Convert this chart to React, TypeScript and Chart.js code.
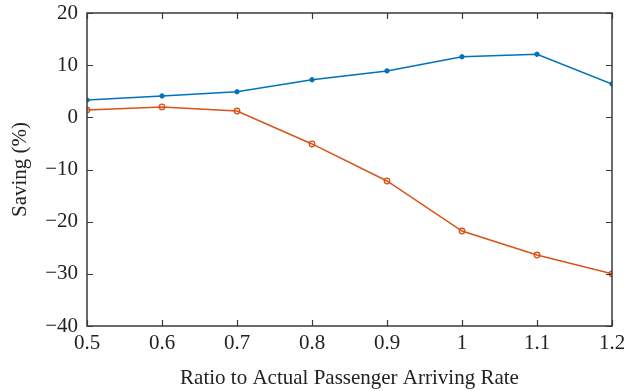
import React, { useEffect, useRef } from "react";
import { Chart, registerables } from "chart.js";
Chart.register(...registerables);

const ratios = [0.5, 0.6, 0.7, 0.8, 0.9, 1.0, 1.1, 1.2];
const savingBlue = [3.3, 4.1, 4.9, 7.2, 8.9, 11.6, 12.1, 6.4];
const savingRed = [1.4, 2.0, 1.2, -5.1, -12.2, -21.8, -26.4, -30.0];
const xTicks = [0.5, 0.6, 0.7, 0.8, 0.9, 1.0, 1.1, 1.2];
const yTicks = [20, 10, 0, -10, -20, -30, -40];

const FONT = "'Liberation Serif', 'Times New Roman', serif";
const AXIS = "#3a3a3a";

const boxPlugin = {
  id: "boxTicks",
  afterDraw(chart: any) {
    const { ctx, chartArea: a, scales } = chart;
    const xs = scales.x, ys = scales.y;
    ctx.save();
    ctx.strokeStyle = AXIS;
    ctx.lineWidth = 1.5;
    ctx.strokeRect(a.left, a.top, a.right - a.left, a.bottom - a.top);
    const L = 6;
    ctx.beginPath();
    xTicks.forEach((v) => {
      const p = Math.round(xs.getPixelForValue(v)) + 0.5;
      ctx.moveTo(p, a.bottom); ctx.lineTo(p, a.bottom - L);
      ctx.moveTo(p, a.top); ctx.lineTo(p, a.top + L);
    });
    yTicks.forEach((v) => {
      const p = Math.round(ys.getPixelForValue(v)) + 0.5;
      ctx.moveTo(a.left, p); ctx.lineTo(a.left + L, p);
      ctx.moveTo(a.right, p); ctx.lineTo(a.right - L, p);
    });
    ctx.lineWidth = 1.2;
    ctx.stroke();
    ctx.restore();
  },
};

export default function App() {
  const ref = useRef<HTMLCanvasElement>(null);
  useEffect(() => {
    document.body.style.margin = "0";
    const chart = new Chart(ref.current!, {
      type: "line",
      data: {
        datasets: [
          {
            data: ratios.map((x, i) => ({ x, y: savingBlue[i] })),
            borderColor: "#0072BD",
            backgroundColor: "#0072BD",
            borderWidth: 1.5,
            pointRadius: 2.2,
            pointBorderWidth: 1,
            pointStyle: "circle",
          },
          {
            data: ratios.map((x, i) => ({ x, y: savingRed[i] })),
            borderColor: "#D95319",
            backgroundColor: "rgba(0,0,0,0)",
            borderWidth: 1.5,
            pointRadius: 2.8,
            pointBorderWidth: 1.3,
            pointStyle: "circle",
          },
        ],
      },
      options: {
        animation: false,
        responsive: false,
        layout: { padding: { top: 13, right: 12, left: 0, bottom: 0 } },
        plugins: { legend: { display: false }, tooltip: { enabled: false } },
        scales: {
          x: {
            type: "linear",
            min: 0.5,
            max: 1.2,
            afterBuildTicks(s: any) {
              s.ticks = xTicks.map((v) => ({ value: v }));
            },
            afterFit(s: any) {
              s.height = 65;
              s.paddingLeft = 0;
              s.paddingRight = 0;
            },
            grid: { display: false, drawTicks: false },
            border: { display: false },
            ticks: {
              color: "#222",
              padding: 5,
              maxRotation: 0,
              font: { family: FONT, size: 21 },
              callback: (v: any) => String(parseFloat(Number(v).toFixed(1))),
            },
            title: {
              display: true,
              text: "Ratio to Actual Passenger Arriving Rate",
              color: "#222",
              font: { family: FONT, size: 21 },
              padding: { top: 6, bottom: 0 },
            },
          },
          y: {
            min: -40,
            max: 20,
            afterBuildTicks(s: any) {
              s.ticks = yTicks.map((v) => ({ value: v }));
            },
            afterFit(s: any) {
              s.width = 87;
              s.paddingTop = 0;
              s.paddingBottom = 0;
            },
            grid: { display: false, drawTicks: false },
            border: { display: false },
            ticks: {
              color: "#222",
              padding: 9,
              font: { family: FONT, size: 21 },
              callback: (v: any) => (v < 0 ? "\u2212" + Math.abs(v) : String(v)),
            },
            title: {
              display: true,
              text: "Saving (%)",
              color: "#222",
              font: { family: FONT, size: 21 },
              padding: { top: 8, bottom: 0 },
            },
          },
        },
      },
      plugins: [boxPlugin],
    });
    return () => chart.destroy();
  }, []);
  return (
    <div style={{ width: 624, height: 391 }}>
      <canvas ref={ref} width={624} height={391} />
    </div>
  );
}
